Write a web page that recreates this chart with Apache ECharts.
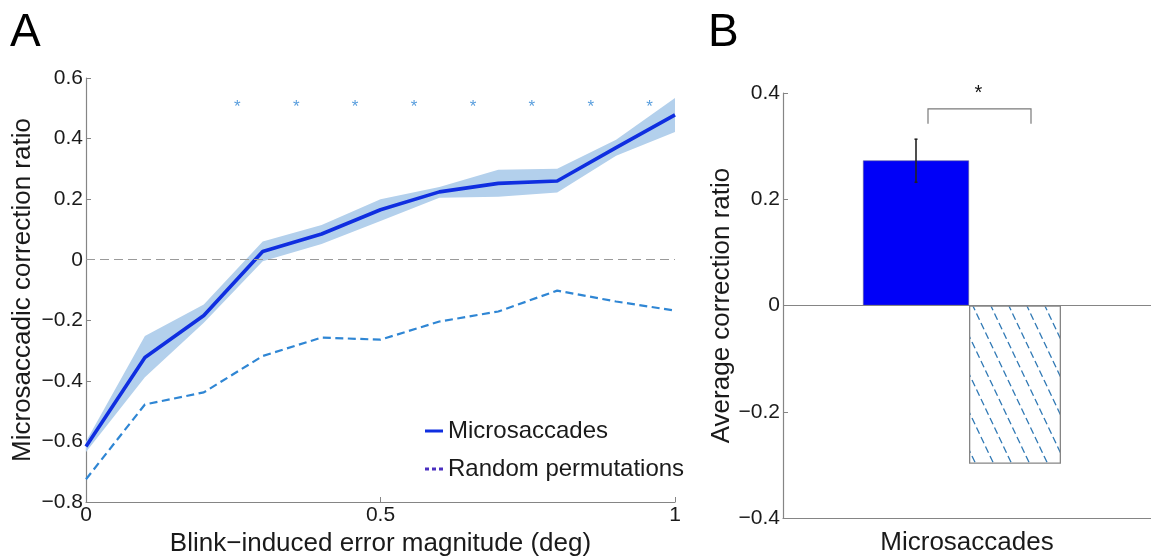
<!DOCTYPE html>
<html>
<head>
<meta charset="utf-8">
<script src="https://cdn.jsdelivr.net/npm/echarts@6/dist/echarts.min.js"></script>
<style>
html,body{margin:0;padding:0;background:#fff;}
#chart{width:1151px;height:556px;}
</style>
</head>
<body>
<div id="chart"></div>
<script>
// ---------- Panel A data ----------
const errorMagnitude = [0, 0.1, 0.2, 0.3, 0.4, 0.5, 0.6, 0.7, 0.8, 0.9, 1.0];
const microsaccades = [-0.617, -0.323, -0.184, 0.027, 0.085, 0.165, 0.224, 0.252, 0.26, 0.37, 0.478];
const microUpper   = [-0.600, -0.252, -0.148, 0.060, 0.115, 0.200, 0.240, 0.297, 0.300, 0.396, 0.534];
const microLower   = [-0.635, -0.388, -0.208, -0.005, 0.052, 0.128, 0.205, 0.208, 0.222, 0.343, 0.422];
const randomPerm   = [-0.725, -0.478, -0.438, -0.318, -0.257, -0.264, -0.204, -0.171, -0.102, -0.138, -0.168];
const sigX = [0.257, 0.357, 0.457, 0.557, 0.657, 0.757, 0.857, 0.957];
const sigY = 0.52;
const aXTicks = {min: 0, max: 1, interval: 0.5};
const aYTicks = {min: -0.8, max: 0.6, interval: 0.2};

// ---------- Panel B data ----------
const bCategories = ['Microsaccades'];
const bMicro = [0.273];
const bMicroErr = [[0.232, 0.313]];
const bRandom = [-0.298];
const bBracket = {top: 0.37, bottom: 0.342, star: 0.40};
const bYTicks = {min: -0.4, max: 0.4, interval: 0.2};

const BLUE_W = 106, HATCH_W = 92, SPACER_W = 10;
const GRAY = '#858585';
const TXT = '#1a1a1a';
const FONT = '"Liberation Sans", Arial, Helvetica, sans-serif';

function fmt(v){ if (Math.abs(v) < 1e-9) return '0'; return String(+v.toFixed(2)).replace('-', '\u2212'); }

// hatch pattern
function makeHatch(){
  const w = 18, h = 38;
  const c = document.createElement('canvas');
  c.width = w; c.height = h;
  const ctx = c.getContext('2d');
  ctx.fillStyle = '#ffffff';
  ctx.fillRect(0,0,w,h);
  ctx.strokeStyle = '#2f78b4';
  ctx.lineWidth = 1.3;
  ctx.setLineDash([7, 3.5]);
  for (const [ox, oy] of [[0,0],[-w,-h],[w,h],[-w,0],[w,0],[0,-h],[0,h]]) {
    ctx.beginPath();
    ctx.moveTo(ox, oy);
    ctx.lineTo(ox + w, oy + h);
    ctx.stroke();
  }
  return c;
}

const chart = echarts.init(document.getElementById('chart'), null, {renderer: 'canvas'});

const option = {
  animation: false,
  backgroundColor: '#ffffff',
  textStyle: {fontFamily: FONT},
  title: [
    {text: 'A', left: 5, top: 5, textStyle: {fontSize: 46, fontWeight: 'normal', color: '#000', fontFamily: FONT}},
    {text: 'B', left: 703, top: 5, textStyle: {fontSize: 46, fontWeight: 'normal', color: '#000', fontFamily: FONT}}
  ],
  legend: {
    orient: 'vertical',
    left: 420, top: 414,
    itemWidth: 18, itemHeight: 3, itemGap: 14,
    textStyle: {fontSize: 24, color: TXT, fontFamily: FONT, lineHeight: 24},
    data: [
      {name: 'Microsaccades', icon: 'rect', itemStyle: {color: '#0f2ee0'}},
      {name: 'Random permutations', icon: 'path://M0,0h4v3h-4zM7,0h4v3h-4zM14,0h4v3h-4z', itemStyle: {color: '#4a2fc0'}}
    ],
    selectedMode: false
  },
  grid: [
    {left: 86, right: 476, top: 78, bottom: 54, outerBoundsMode: 'none', containLabel: false},
    {left: 783, right: 0, top: 93, bottom: 38, outerBoundsMode: 'none', containLabel: false}
  ],
  xAxis: [
    {
      gridIndex: 0, type: 'value', min: aXTicks.min, max: aXTicks.max, interval: aXTicks.interval,
      name: 'Blink\u2212induced error magnitude (deg)', nameLocation: 'middle', nameGap: 29,
      nameTextStyle: {fontSize: 26, color: TXT, fontFamily: FONT},
      axisLine: {show: true, onZero: false, lineStyle: {color: GRAY, width: 1.2}},
      axisTick: {show: true, inside: true, length: 5, lineStyle: {color: GRAY}},
      axisLabel: {fontSize: 21, color: TXT, margin: 3, formatter: fmt, fontFamily: FONT},
      splitLine: {show: false}
    },
    {
      gridIndex: 1, type: 'category', data: bCategories,
      axisLine: {show: true, onZero: false, lineStyle: {color: GRAY, width: 1.2}},
      axisTick: {show: false},
      axisLabel: {fontSize: 26, color: TXT, margin: 12, fontFamily: FONT},
      splitLine: {show: false}
    }
  ],
  yAxis: [
    {
      gridIndex: 0, type: 'value', min: aYTicks.min, max: aYTicks.max, interval: aYTicks.interval,
      name: 'Microsaccadic correction ratio', nameLocation: 'middle', nameGap: 50, nameMoveOverlap: false,
      nameTextStyle: {fontSize: 26, color: TXT, fontFamily: FONT},
      axisLine: {show: true, onZero: false, lineStyle: {color: GRAY, width: 1.2}},
      axisTick: {show: true, inside: true, length: 5, lineStyle: {color: GRAY}},
      axisLabel: {fontSize: 21, color: TXT, margin: 3, formatter: fmt, fontFamily: FONT},
      splitLine: {show: false}
    },
    {
      gridIndex: 1, type: 'value', min: bYTicks.min, max: bYTicks.max, interval: bYTicks.interval,
      name: 'Average correction ratio', nameLocation: 'middle', nameGap: 48, nameMoveOverlap: false,
      nameTextStyle: {fontSize: 26, color: TXT, fontFamily: FONT},
      axisLine: {show: true, onZero: false, lineStyle: {color: GRAY, width: 1.2}},
      axisTick: {show: true, inside: true, length: 5, lineStyle: {color: GRAY}},
      axisLabel: {fontSize: 21, color: TXT, margin: 3, formatter: fmt, fontFamily: FONT},
      splitLine: {show: false}
    }
  ],
  series: [
    // confidence band
    {
      type: 'custom', name: 'band', xAxisIndex: 0, yAxisIndex: 0, z: 1, silent: true,
      data: [[0, 0]],
      renderItem: function(params, api){
        const pts = [];
        for (let i = 0; i < errorMagnitude.length; i++) pts.push(api.coord([errorMagnitude[i], microUpper[i]]));
        for (let i = errorMagnitude.length - 1; i >= 0; i--) pts.push(api.coord([errorMagnitude[i], microLower[i]]));
        return {type: 'polygon', shape: {points: pts}, style: {fill: '#b3d0ec', stroke: null}};
      }
    },
    {
      type: 'line', name: 'Random permutations', xAxisIndex: 0, yAxisIndex: 0, z: 3,
      data: errorMagnitude.map((x, i) => [x, randomPerm[i]]),
      symbol: 'none',
      lineStyle: {color: '#2f86d4', width: 2.2, type: [8, 4.5]},
      itemStyle: {color: '#2f86d4'},
      markLine: {
        silent: true, symbol: 'none', label: {show: false},
        lineStyle: {color: '#9a9a9a', width: 1.2, type: [9, 5]},
        data: [{yAxis: 0}]
      }
    },
    {
      type: 'line', name: 'Microsaccades', xAxisIndex: 0, yAxisIndex: 0, z: 4,
      data: errorMagnitude.map((x, i) => [x, microsaccades[i]]),
      symbol: 'none',
      lineStyle: {color: '#0f2ee0', width: 3.6},
      itemStyle: {color: '#0f2ee0'}
    },
    {
      type: 'scatter', name: 'sig', xAxisIndex: 0, yAxisIndex: 0, z: 5, silent: true,
      data: sigX.map(x => [x, sigY]),
      symbolSize: 0,
      label: {show: true, position: 'inside', offset: [0, 5], formatter: '*', fontSize: 17, color: '#2f86d4', fontFamily: FONT}
    },
    // Panel B
    {
      type: 'bar', name: 'B microsaccades', xAxisIndex: 1, yAxisIndex: 1,
      data: bMicro, barWidth: BLUE_W, barGap: '0%',
      itemStyle: {color: '#0000f8', borderColor: '#5a5a9a', borderWidth: 0.6},
      markLine: {
        silent: true, symbol: 'none', label: {show: false},
        lineStyle: {color: GRAY, width: 1.2, type: 'solid'},
        data: [{yAxis: 0}]
      }
    },
    {
      type: 'bar', name: 'B random', xAxisIndex: 1, yAxisIndex: 1,
      data: bRandom, barWidth: HATCH_W, barGap: '0%',
      itemStyle: {color: {image: makeHatch(), repeat: 'repeat'}, borderColor: GRAY, borderWidth: 1.3}
    },
    {
      type: 'bar', name: 'spacer', xAxisIndex: 1, yAxisIndex: 1, silent: true,
      data: [0], barWidth: SPACER_W, barGap: '0%',
      itemStyle: {color: 'rgba(0,0,0,0)'}
    },
    // error bar
    {
      type: 'custom', name: 'errbar', xAxisIndex: 1, yAxisIndex: 1, z: 10, silent: true,
      data: bMicroErr.map((e, i) => [i, e[0], e[1]]),
      renderItem: function(params, api){
        const total = BLUE_W + HATCH_W + SPACER_W;
        const c = api.coord([api.value(0), api.value(1)]);
        const hi = api.coord([api.value(0), api.value(2)]);
        const x = c[0] - total / 2 + BLUE_W / 2;
        const st = {stroke: '#222', lineWidth: 1.6};
        return {type: 'group', children: [
          {type: 'line', shape: {x1: x, y1: c[1], x2: x, y2: hi[1]}, style: st},
          {type: 'line', shape: {x1: x - 1.5, y1: c[1], x2: x + 1.5, y2: c[1]}, style: st},
          {type: 'line', shape: {x1: x - 1.5, y1: hi[1], x2: x + 1.5, y2: hi[1]}, style: st}
        ]};
      }
    },
    // significance bracket
    {
      type: 'custom', name: 'bracket', xAxisIndex: 1, yAxisIndex: 1, z: 10, silent: true,
      data: [[0, bBracket.top, bBracket.bottom, bBracket.star]],
      renderItem: function(params, api){
        const total = BLUE_W + HATCH_W + SPACER_W;
        const top = api.coord([api.value(0), api.value(1)]);
        const bot = api.coord([api.value(0), api.value(2)]);
        const star = api.coord([api.value(0), api.value(3)]);
        const blueC = top[0] - total / 2 + BLUE_W / 2;
        const hatchC = top[0] - total / 2 + BLUE_W + HATCH_W / 2;
        const xl = blueC + 12, xr = hatchC + 16;
        const st = {stroke: '#7a7a7a', lineWidth: 1.2, fill: null};
        return {type: 'group', children: [
          {type: 'polyline', shape: {points: [[xl, bot[1]], [xl, top[1]], [xr, top[1]], [xr, bot[1]]]}, style: st},
          {type: 'text', x: (xl + xr) / 2 - 1, y: star[1], style: {text: '*', fill: '#111', fontSize: 20, fontFamily: FONT, align: 'center', verticalAlign: 'middle'}}
        ]};
      }
    }
  ]
};
chart.setOption(option);
</script>
</body>
</html>
